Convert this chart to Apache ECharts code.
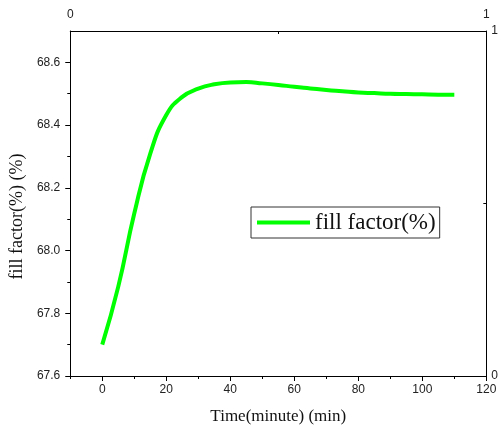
<!DOCTYPE html>
<html>
<head>
<meta charset="utf-8">
<script src="https://cdn.jsdelivr.net/npm/echarts@6/dist/echarts.min.js"></script>
<style>
  html, body { margin: 0; padding: 0; background: #fff; }
  #chart { width: 501px; height: 430px; }
</style>
</head>
<body>
<div id="chart"></div>
<script>
// Fill factor over time
const minutes = [0, 5, 10, 15, 20, 25, 30, 35, 40, 45, 50, 55, 60, 65, 70, 75, 80, 85, 90, 95, 100, 105, 110];
const fillFactor = [67.700, 67.885, 68.118, 68.309, 68.432, 68.490, 68.516, 68.530, 68.536, 68.537, 68.533, 68.528, 68.522, 68.517, 68.512, 68.508, 68.504, 68.502, 68.500, 68.499, 68.498, 68.497, 68.497];

const xMajorTicks = [0, 20, 40, 60, 80, 100, 120];
const xMinorTicks = [-10, 10, 30, 50, 70, 90, 110];
const yMajorTicks = [67.6, 67.8, 68.0, 68.2, 68.4, 68.6];
const yMinorTicks = [67.7, 67.9, 68.1, 68.3, 68.5];
const frameLabels = [0, 1];

const seriesName = 'fill factor(%)';
const xTitle = 'Time(minute) (min)';
const yTitle = 'fill factor(%) (%)';

const points = minutes.map((m, i) => [m, fillFactor[i]]);

const axisLine = { show: true, onZero: false, lineStyle: { color: '#000', width: 1 } };
const labelFont = { fontFamily: 'Liberation Sans', fontSize: 12, color: '#222' };

const chart = echarts.init(document.getElementById('chart'), null, { renderer: 'canvas' });
chart.setOption({
  backgroundColor: '#fff',
  animation: false,
  grid: { left: 67, right: 10, top: 31, bottom: 54, containLabel: false },
  legend: {
    data: [seriesName],
    icon: 'rect',
    left: 251,
    top: 207,
    itemWidth: 53,
    itemHeight: 4,
    padding: [4, 4, 4, 6],
    borderColor: '#333',
    borderWidth: 1,
    textStyle: { fontFamily: 'Liberation Serif', fontSize: 23, color: '#111' }
  },
  xAxis: [
    {
      type: 'value', position: 'bottom', min: -10, max: 120,
      axisLine: axisLine,
      axisTick: { show: true, inside: false, length: 5, customValues: xMajorTicks, lineStyle: { color: '#000' } },
      axisLabel: Object.assign({ customValues: xMajorTicks, margin: 8 }, labelFont),
      splitLine: { show: false },
      name: xTitle, nameLocation: 'middle', nameGap: 32,
      nameTextStyle: { fontFamily: 'Liberation Serif', fontSize: 17, color: '#111' }
    },
    {
      type: 'value', position: 'bottom', min: -10, max: 120,
      axisLine: { show: false, onZero: false },
      axisTick: { show: true, inside: false, length: 3, customValues: xMinorTicks, lineStyle: { color: '#000' } },
      axisLabel: { show: false },
      splitLine: { show: false }
    },
    {
      type: 'value', position: 'top', min: 0, max: 1,
      axisLine: axisLine,
      axisTick: { show: true, inside: true, length: 3, customValues: [0.5], lineStyle: { color: '#000' } },
      axisLabel: Object.assign({ customValues: frameLabels, margin: 10 }, labelFont),
      splitLine: { show: false }
    }
  ],
  yAxis: [
    {
      type: 'value', position: 'left', min: 67.6, max: 68.7,
      axisLine: axisLine,
      axisTick: { show: true, inside: false, length: 5, customValues: yMajorTicks, lineStyle: { color: '#000' } },
      axisLabel: Object.assign({ customValues: yMajorTicks, margin: 10, formatter: v => v.toFixed(1) }, labelFont),
      splitLine: { show: false },
      name: yTitle, nameLocation: 'middle', nameGap: 42,
      nameTextStyle: { fontFamily: 'Liberation Serif', fontSize: 18, color: '#111', padding: [0, 26, 0, 0] }
    },
    {
      type: 'value', position: 'left', min: 67.6, max: 68.7,
      axisLine: { show: false, onZero: false },
      axisTick: { show: true, inside: false, length: 3, customValues: yMinorTicks, lineStyle: { color: '#000' } },
      axisLabel: { show: false },
      splitLine: { show: false }
    },
    {
      type: 'value', position: 'right', min: 0, max: 1,
      axisLine: axisLine,
      axisTick: { show: true, inside: true, length: 3, customValues: [0.5], lineStyle: { color: '#000' } },
      axisLabel: Object.assign({ customValues: frameLabels, margin: 5 }, labelFont),
      splitLine: { show: false }
    }
  ],
  series: [
    {
      name: seriesName,
      type: 'line',
      xAxisIndex: 0,
      yAxisIndex: 0,
      data: points,
      smooth: 0.5,
      symbol: 'none',
      lineStyle: { color: '#00ff00', width: 4 },
      itemStyle: { color: '#00ff00' }
    }
  ]
});
</script>
</body>
</html>
